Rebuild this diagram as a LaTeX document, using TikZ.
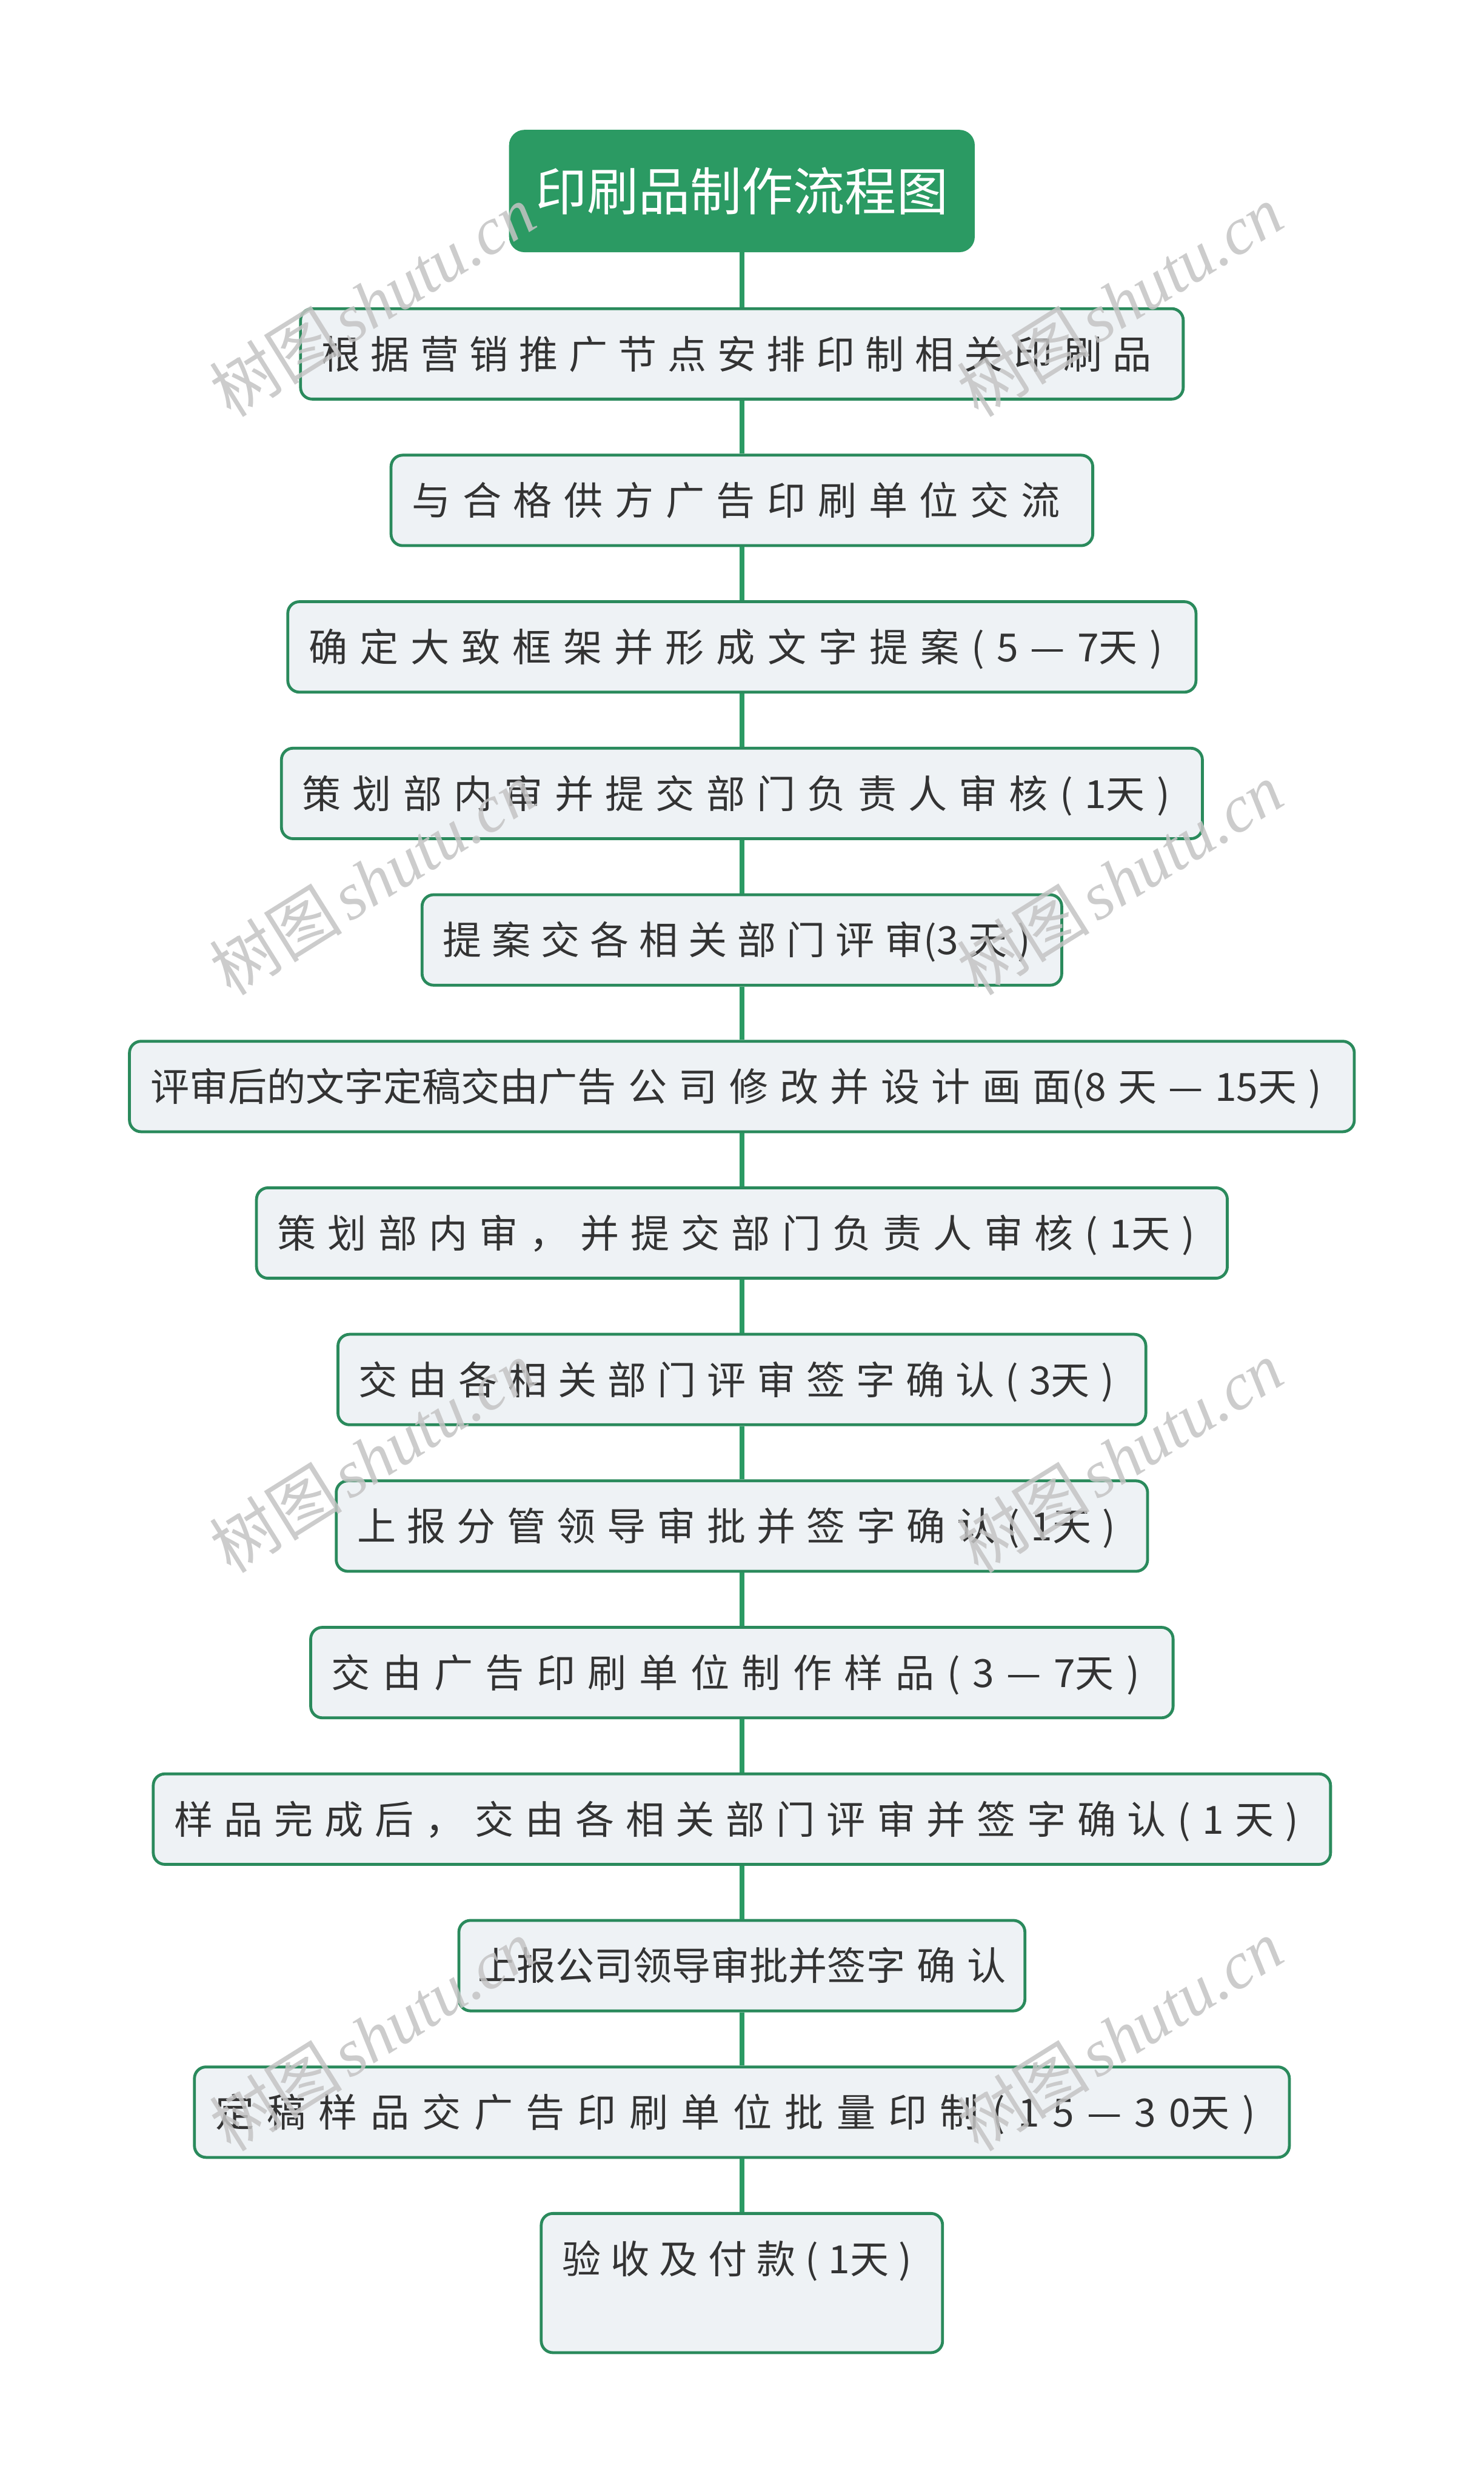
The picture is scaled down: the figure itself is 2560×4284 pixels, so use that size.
\documentclass[tikz,border=0pt]{standalone}
\usepackage{fontspec}
\setmainfont{Noto Sans CJK SC}
\newfontfamily\wmlatin{Liberation Serif}
\definecolor{tgreen}{HTML}{2B9A63}
\definecolor{bgreen}{HTML}{2A8A5C}
\definecolor{boxfill}{HTML}{EEF2F5}
\definecolor{txt}{HTML}{333333}
\definecolor{wm}{HTML}{C4C4C4}
\newcommand\myspend{}
\def\myspendm{\myspend}
\def\myspA#1{\def\mysparg{#1}\ifx\mysparg\myspendm\else\mbox{#1}\hfil\expandafter\myspA\fi}
\newcommand\mysp[2]{\hbox to #1{\myspA#2\myspend}}
\newcommand\bodyfont{\fontsize{19.06pt}{22pt}\selectfont}
\newcommand\titlefont{\fontsize{25.3pt}{30pt}\selectfont}
\newcommand\wmfont{\fontsize{32.7pt}{36pt}\selectfont}
\begin{document}
\begin{tikzpicture}[x=0.01cm,y=-0.01cm,
  titlebox/.style={fill=tgreen, draw=tgreen, line width=0.03cm, rounded corners=0.25cm,
    minimum width=8cm, inner xsep=0pt, inner ysep=0.4cm, text height=0.98cm, text depth=0.30cm,
    anchor=north, text=white, font=\titlefont},
  stepbox/.style={draw=bgreen, line width=0.05cm, fill=boxfill, rounded corners=0.2cm,
    inner xsep=0pt, inner ysep=0.3cm, text height=0.735cm, text depth=0.225cm,
    anchor=north, text=txt, font=\bodyfont},
  lastbox/.style={stepbox, text depth=1.065cm},
  conn/.style={draw=tgreen, line width=0.09cm},
  wmark/.style={text=wm, opacity=0.85, font=\wmfont, rotate=32, inner sep=0pt}]
\useasboundingbox (0,0) rectangle (2560,4284);
\fill[white] (0,0) rectangle (2560,4284);

\node[titlebox] (title) at (1280,224) {印刷品制作流程图};

\node[stepbox, minimum width=15.22cm] (b1) at (1280,530)
  {\mysp{14.50cm}{根 据 营 销 推 广 节 点 安 排 印 制 相 关 印 刷 品}};
\node[stepbox, minimum width=12.10cm] (b2) at (1280,782.8)
  {\mysp{11.38cm}{与 合 格 供 方 广 告 印 刷 单 位 交 流}};
\node[stepbox, minimum width=15.66cm] (b3) at (1280,1035.6)
  {\mysp{14.94cm}{确 定 大 致 框 架 并 形 成 文 字 提 案 ( 5 — {7天} )}};
\node[stepbox, minimum width=15.88cm] (b4) at (1280,1288.4)
  {\mysp{15.16cm}{策 划 部 内 审 并 提 交 部 门 负 责 人 审 核 ( {1天} )}};
\node[stepbox, minimum width=11.03cm] (b5) at (1280,1541.2)
  {\mysp{10.31cm}{提 案 交 各 相 关 部 门 评 {审(3} 天 )}};
\node[stepbox, minimum width=21.12cm] (b6) at (1280,1794)
  {\mysp{20.40cm}{{评审后的文字定稿交由广告} 公 司 修 改 并 设 计 画 {面(8} 天 — {15天} )}};
\node[stepbox, minimum width=16.74cm] (b7) at (1280,2046.8)
  {\mysp{16.02cm}{策 划 部 内 审 ， 并 提 交 部 门 负 责 人 审 核 ( {1天} )}};
\node[stepbox, minimum width=13.93cm] (b8) at (1280,2299.6)
  {\mysp{13.21cm}{交 由 各 相 关 部 门 评 审 签 字 确 认 ( {3天} )}};
\node[stepbox, minimum width=13.99cm] (b9) at (1280,2552.4)
  {\mysp{13.27cm}{上 报 分 管 领 导 审 批 并 签 字 确 认 ( {1天} )}};
\node[stepbox, minimum width=14.87cm] (b10) at (1280,2805.2)
  {\mysp{14.15cm}{交 由 广 告 印 刷 单 位 制 作 样 品 ( 3 — {7天} )}};
\node[stepbox, minimum width=20.30cm] (b11) at (1280,3058)
  {\mysp{19.58cm}{样 品 完 成 后 ， 交 由 各 相 关 部 门 评 审 并 签 字 确 认 ( 1 天 )}};
\node[stepbox, minimum width=9.76cm] (b12) at (1280,3310.8)
  {上报公司领导审批并签字\hspace{0.2cm}确\hspace{0.2cm}认};
\node[stepbox, minimum width=18.88cm] (b13) at (1280,3563.6)
  {\mysp{18.16cm}{定 稿 样 品 交 广 告 印 刷 单 位 批 量 印 制 ( 1 5 — 3 {0天} )}};
\node[lastbox, minimum width=6.92cm] (b14) at (1280,3816.4)
  {\mysp{6.20cm}{验 收 及 付 款 ( {1天} )}};

\draw[conn] (title.south) -- (b1.north);
\foreach \a/\b in {b1/b2,b2/b3,b3/b4,b4/b5,b5/b6,b6/b7,b7/b8,b8/b9,b9/b10,b10/b11,b11/b12,b12/b13,b13/b14}
  \draw[conn] (\a.south) -- (\b.north);

\foreach \i/\px/\py in {1/642/519,2/1932/519,3/642/1516,4/1932/1516,5/642/2513,6/1932/2513,7/642/3511,8/1932/3511}
  \node[wmark] (wm\i) at (\px,\py) {树图\hspace{0.12cm}{\wmlatin\itshape shutu.cn}};
\end{tikzpicture}
\end{document}
